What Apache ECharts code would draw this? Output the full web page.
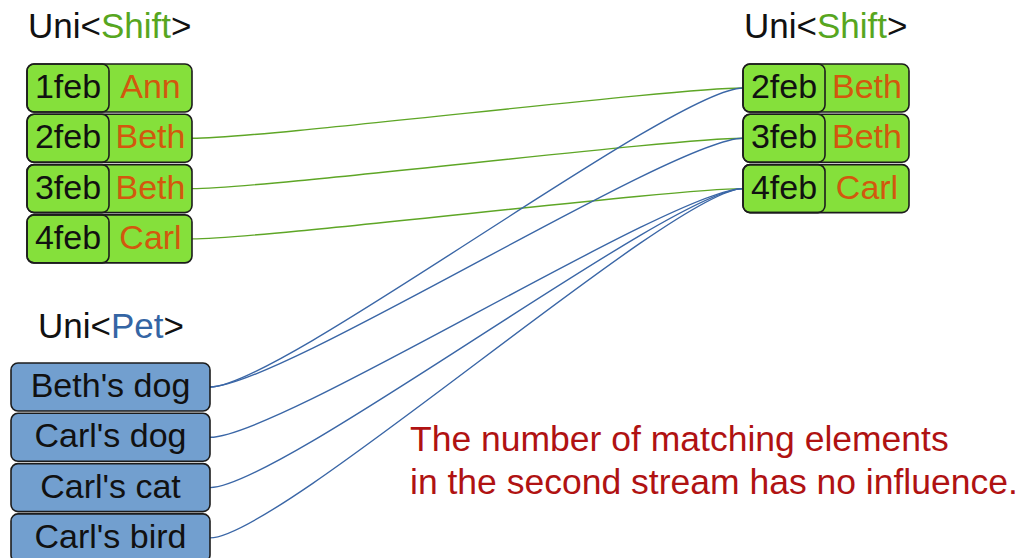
<!DOCTYPE html>
<html>
<head>
<meta charset="utf-8">
<script src="https://cdn.jsdelivr.net/npm/echarts@6/dist/echarts.min.js"></script>
<style>
  html, body { margin: 0; padding: 0; background: #fff; }
  #chart { width: 1026px; height: 558px; }
</style>
</head>
<body>
<div id="chart"></div>
<script>
// data
const shiftDays = ['1feb', '2feb', '3feb', '4feb'];
const shiftStaff = ['Ann', 'Beth', 'Beth', 'Carl'];
const uniShiftDays = ['2feb', '3feb', '4feb'];
const uniShiftStaff = ['Beth', 'Beth', 'Carl'];
const pets = ["Beth's dog", "Carl's dog", "Carl's cat", "Carl's bird"];
// [from row, to row in the right hand Uni<Shift>]
const shiftJoins = [[1, 0], [2, 1], [3, 2]];
const petJoins = [[0, 0], [0, 1], [1, 2], [2, 2], [3, 2]];
const titleTypes = ['Shift', 'Shift', 'Pet'];
const noteLines = ['The number of matching elements', 'in the second stream has no influence.'];

// layout, in axis units (1 unit = 1 px)
const ROW_H = 48;
const ROW_STEP = 50.3;
const leftFrame = { x: 27, y: 64, w: 165, split: 82 };
const rightFrame = { x: 743, y: 64, w: 166, split: 82 };
const petFrame = { x: 11, y: 363, w: 199 };
const titlePos = [[28, 25], [744, 25], [38, 325]];
const notePos = [410, 439, 43];
const CURVE = 0.13;

const FONT = '"Liberation Sans", Arial, sans-serif';
const GREEN_FILL = '#85e03b';
const BLUE_FILL = '#729fcf';
const BORDER = '#1c1c1c';
const ORANGE = '#d2580e';
const GREEN_TXT = '#57a61f';
const BLUE_TXT = '#3465a4';
const GREEN_LINE = '#5ea626';
const BLUE_LINE = '#3a66a6';
const NOTE = '#b01212';

const chart = echarts.init(document.getElementById('chart'), null, { renderer: 'svg' });

function rowBox(api, frame, i) {
    const top = frame.y + i * ROW_STEP;
    const p0 = api.coord([frame.x, top]);
    const p1 = api.coord([frame.x + frame.w, top + ROW_H]);
    return { x: p0[0], y: p0[1], w: p1[0] - p0[0], h: p1[1] - p0[1] };
}

function shiftBox(api, frame, i, day, name) {
    const b = rowBox(api, frame, i);
    const split = api.size([frame.split, 0])[0];
    const cy = b.y + b.h / 2 - 2;
    return {
        type: 'group',
        children: [
            { type: 'rect', shape: { x: b.x, y: b.y, width: b.w, height: b.h, r: 7 },
              style: { fill: GREEN_FILL, stroke: BORDER, lineWidth: 1.6 } },
            { type: 'rect', shape: { x: b.x, y: b.y, width: split, height: b.h, r: 7 },
              style: { fill: 'none', stroke: BORDER, lineWidth: 1.6 } },
            { type: 'text', style: { text: day, x: b.x + split / 2, y: cy, align: 'center',
              verticalAlign: 'middle', font: '34px ' + FONT, fill: '#111' } },
            { type: 'text', style: { text: name, x: b.x + split + (b.w - split) / 2, y: cy,
              align: 'center', verticalAlign: 'middle', font: '34px ' + FONT, fill: ORANGE } }
        ]
    };
}

function joinCurve(api, a, b, color) {
    const dx = b[0] - a[0];
    const p1 = api.coord(a);
    const p2 = api.coord(b);
    const c1 = api.coord([a[0] + CURVE * dx, a[1]]);
    const c2 = api.coord([b[0] - CURVE * dx, b[1]]);
    return {
        type: 'bezierCurve',
        shape: { x1: p1[0], y1: p1[1], x2: p2[0], y2: p2[1],
                 cpx1: c1[0], cpy1: c1[1], cpx2: c2[0], cpy2: c2[1] },
        style: { fill: 'none', stroke: color, lineWidth: 1.4 }
    };
}

function rowMid(frame, i) {
    return frame.y + i * ROW_STEP + ROW_H / 2;
}

chart.setOption({
    animation: false,
    grid: { left: 0, right: 0, top: 0, bottom: 0 },
    xAxis: { type: 'value', min: 0, max: 1026, show: false },
    yAxis: { type: 'value', min: 0, max: 558, inverse: true, show: false },
    series: [
        {
            type: 'custom',
            name: 'shift joins',
            data: shiftJoins,
            renderItem: (params, api) => {
                const j = shiftJoins[params.dataIndex];
                return joinCurve(api,
                    [leftFrame.x + leftFrame.w, rowMid(leftFrame, j[0])],
                    [rightFrame.x, rowMid(rightFrame, j[1])], GREEN_LINE);
            }
        },
        {
            type: 'custom',
            name: 'pet joins',
            data: petJoins,
            renderItem: (params, api) => {
                const j = petJoins[params.dataIndex];
                return joinCurve(api,
                    [petFrame.x + petFrame.w, rowMid(petFrame, j[0])],
                    [rightFrame.x, rowMid(rightFrame, j[1])], BLUE_LINE);
            }
        },
        {
            type: 'custom',
            name: 'shifts',
            data: shiftDays.map((d, i) => [i]),
            renderItem: (params, api) => {
                const i = params.dataIndex;
                return shiftBox(api, leftFrame, i, shiftDays[i], shiftStaff[i]);
            }
        },
        {
            type: 'custom',
            name: 'uni shifts',
            data: uniShiftDays.map((d, i) => [i]),
            renderItem: (params, api) => {
                const i = params.dataIndex;
                return shiftBox(api, rightFrame, i, uniShiftDays[i], uniShiftStaff[i]);
            }
        },
        {
            type: 'custom',
            name: 'pets',
            data: pets.map((d, i) => [i]),
            renderItem: (params, api) => {
                const i = params.dataIndex;
                const b = rowBox(api, petFrame, i);
                return {
                    type: 'group',
                    children: [
                        { type: 'rect', shape: { x: b.x, y: b.y, width: b.w, height: b.h, r: 7 },
                          style: { fill: BLUE_FILL, stroke: BORDER, lineWidth: 1.6 } },
                        { type: 'text', style: { text: pets[i], x: b.x + b.w / 2, y: b.y + b.h / 2 - 2,
                          align: 'center', verticalAlign: 'middle', font: '34px ' + FONT, fill: '#111' } }
                    ]
                };
            }
        },
        {
            type: 'custom',
            name: 'titles',
            data: titleTypes.map((d, i) => [i]),
            renderItem: (params, api) => {
                const i = params.dataIndex;
                const p = api.coord(titlePos[i]);
                const col = titleTypes[i] === 'Pet' ? BLUE_TXT : GREEN_TXT;
                return {
                    type: 'text',
                    style: {
                        text: '{a|Uni<}{b|' + titleTypes[i] + '}{a|>}',
                        x: p[0], y: p[1], align: 'left', verticalAlign: 'middle',
                        rich: {
                            a: { fontSize: 35, fontFamily: FONT, fill: '#111' },
                            b: { fontSize: 35, fontFamily: FONT, fill: col }
                        }
                    }
                };
            }
        },
        {
            type: 'custom',
            name: 'note',
            data: noteLines.map((d, i) => [i]),
            renderItem: (params, api) => {
                const i = params.dataIndex;
                const p = api.coord([notePos[0], notePos[1] + i * notePos[2]]);
                return {
                    type: 'text',
                    style: { text: noteLines[i], x: p[0], y: p[1], align: 'left',
                             verticalAlign: 'middle', font: '35.5px ' + FONT, fill: NOTE }
                };
            }
        }
    ]
});
</script>
</body>
</html>
